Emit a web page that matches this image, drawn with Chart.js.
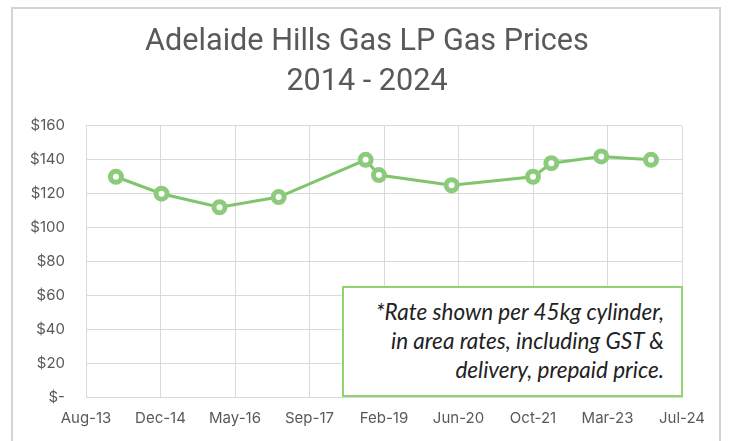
<!DOCTYPE html>
<html>
<head>
<meta charset="utf-8">
<script src="https://cdn.jsdelivr.net/npm/chart.js@4/dist/chart.umd.min.js"></script>
<style>
  html, body { margin: 0; padding: 0; background: #fff; overflow: hidden; }
  #wrap { position: relative; width: 731px; height: 441px; }
  #frame { position: absolute; left: 11px; top: 7px; width: 710px; height: 460px; border: 2px solid #d4d4d4; box-sizing: border-box; }
  #chart { position: absolute; left: 0; top: 0; }
  #note {
    position: absolute; left: 342px; top: 286px; width: 341px; height: 111px;
    box-sizing: border-box; border: 2px solid #8fd46c; background: #fff;
    font-family: Lato, "Open Sans", sans-serif; font-style: italic; font-size: 22.5px;
    line-height: 29px; color: #222; text-align: right; padding: 9px 17px 0 0;
  }
</style>
</head>
<body>
<div id="wrap">
  <div id="frame"></div>
  <canvas id="chart" width="731" height="441"></canvas>
  <div id="note">*Rate shown per 45kg cylinder,<br>in area rates, including GST &amp;<br>delivery, prepaid price.</div>
</div>
<script>
// price observations (date of price, $ per 45kg cylinder)
var priceDates = ['2014-03-01', '2015-01-01', '2016-01-25', '2017-02-25', '2018-10-02', '2018-12-30',
                  '2020-05-01', '2021-10-29', '2022-03-01', '2023-01-30', '2023-12-30'];
var prices = [130, 120, 112, 118, 140, 131, 125, 130, 138, 142, 140];

// x axis ticks, every 500 days from axisStart (Excel date axis)
var axisStart = '2013-08-12';
var tickStepDays = 500;
var tickLabels = ['Aug-13', 'Dec-14', 'May-16', 'Sep-17', 'Feb-19', 'Jun-20', 'Oct-21', 'Mar-23', 'Jul-24'];

var yTicks = [0, 20, 40, 60, 80, 100, 120, 140, 160];

var DAY = 86400000;
var start = Date.parse(axisStart);
var points = priceDates.map(function (d, i) { return { x: Date.parse(d), y: prices[i] }; });

var grey = '#595959';
var gridColor = '#d9d9d9';
var green = '#80c56d';

// the excel title is centred on the plot area, not the whole canvas
var shiftTitle = {
  id: 'shiftTitle',
  afterLayout: function (chart) {
    if (chart.titleBlock) chart.titleBlock.left += 40;
  }
};

new Chart(document.getElementById('chart'), {
  type: 'line',
  data: {
    datasets: [{
      label: 'Price',
      data: points,
      borderColor: green,
      borderWidth: 3,
      pointRadius: 5.5,
      pointBorderWidth: 5,
      pointBackgroundColor: '#fff',
      pointBorderColor: '#8ccb7c',
      tension: 0
    }]
  },
  plugins: [shiftTitle],
  options: {
    responsive: false,
    animation: false,
    layout: { padding: { left: 12, right: 49, top: 0, bottom: 0 } },
    plugins: {
      legend: { display: false },
      tooltip: { enabled: false },
      title: {
        display: true,
        text: ['Adelaide Hills Gas LP Gas Prices', '2014 - 2024'],
        color: grey,
        font: { family: 'Roboto', size: 30.6, weight: 'normal', lineHeight: 1.29 },
        padding: { top: 23, bottom: 24 }
      }
    },
    scales: {
      x: {
        type: 'linear',
        min: start,
        max: start + (tickLabels.length - 1) * tickStepDays * DAY,
        afterBuildTicks: function (scale) {
          scale.ticks = tickLabels.map(function (_, i) { return { value: start + i * tickStepDays * DAY }; });
        },
        afterFit: function (scale) { scale.height = 44; },
        grid: { color: gridColor, lineWidth: 1, drawTicks: false },
        border: { color: gridColor, width: 1 },
        ticks: {
          autoSkip: false, maxRotation: 0, padding: 12, color: grey,
          font: { family: 'Inter', size: 15 },
          callback: function (v, i) { return tickLabels[i]; }
        }
      },
      y: {
        min: 0,
        max: 160,
        afterBuildTicks: function (scale) {
          scale.ticks = yTicks.map(function (v) { return { value: v }; });
        },
        afterFit: function (scale) { scale.width = 74; },
        grid: { color: gridColor, lineWidth: 1, drawTicks: false },
        border: { color: gridColor, width: 1 },
        ticks: {
          padding: 21, color: grey,
          font: { family: 'Inter', size: 15 },
          callback: function (v) { return v === 0 ? '$-' : '$' + v; }
        }
      }
    }
  }
});
</script>
</body>
</html>
